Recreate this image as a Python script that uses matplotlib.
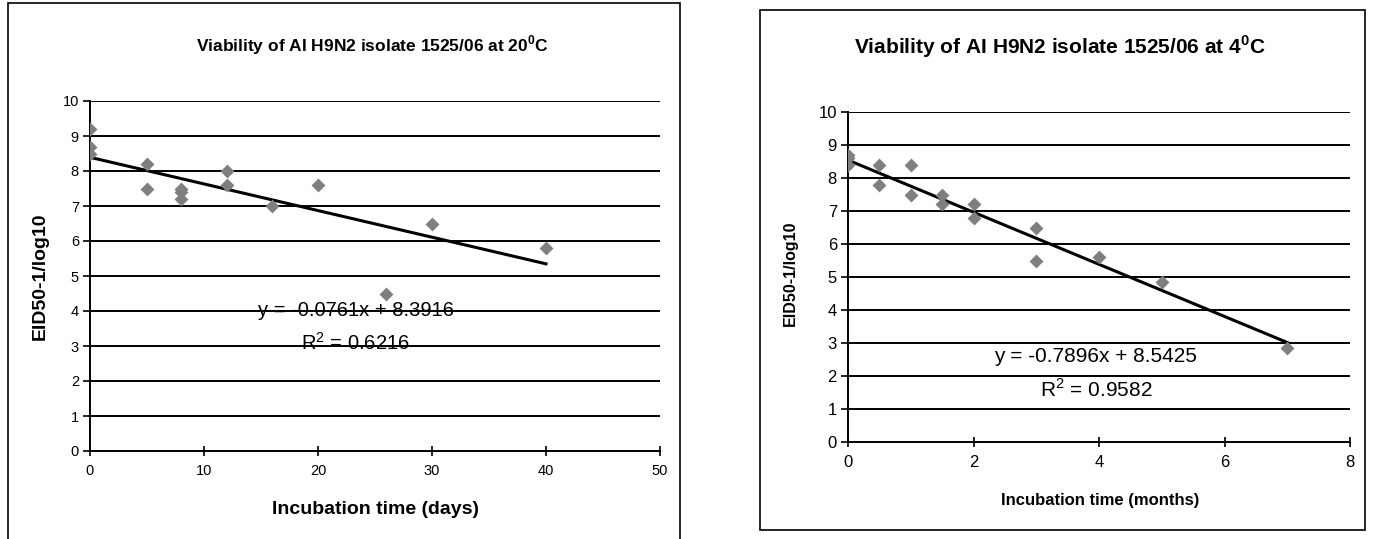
import numpy as np
import matplotlib
matplotlib.use("Agg")
import matplotlib.pyplot as plt
from matplotlib.patches import Rectangle

plt.rcParams['font.family'] = ['Liberation Sans', 'DejaVu Sans']
plt.rcParams['mathtext.fontset'] = 'custom'
plt.rcParams['mathtext.rm'] = 'Liberation Sans'
plt.rcParams['mathtext.bf'] = 'Liberation Sans:bold'

# --- data: 20 C, days ---
days = [0, 0, 0, 5, 5, 8, 8, 8, 12, 12, 16, 20, 26, 30, 40]
titre_20 = [9.2, 8.7, 8.5, 8.2, 7.5, 7.5, 7.4, 7.2, 8.0, 7.6, 7.0, 7.6, 4.5, 6.5, 5.8]
slope_20, icept_20, r2_20 = -0.0761, 8.3916, 0.6216

# --- data: 4 C, months ---
months = [0, 0, 0, 0.5, 0.5, 1, 1, 1.5, 1.5, 2, 2, 3, 3, 4, 5, 7]
titre_4 = [8.7, 8.6, 8.4, 8.4, 7.8, 8.4, 7.5, 7.5, 7.2, 7.2, 6.8, 6.5, 5.5, 5.6, 4.85, 2.85]
slope_4, icept_4, r2_4 = -0.7896, 8.5425, 0.9582

W, H = 1376, 539
fig = plt.figure(figsize=(W / 100, H / 100), dpi=100)


def px_axes(x0, x1, y_top, y_bot):
    return fig.add_axes([x0 / W, 1 - y_bot / H, (x1 - x0) / W, (y_bot - y_top) / H])


def frame(x0, y0, x1, y1):
    fig.patches.append(Rectangle((x0 / W, 1 - y1 / H), (x1 - x0) / W, (y1 - y0) / H,
                                 transform=fig.transFigure, fill=False,
                                 edgecolor='black', linewidth=1.2))


def draw_panel(ax, x, y, slope, icept, xmax, xstep, tick_fs):
    ax.set_xlim(0, xmax)
    ax.set_ylim(0, 10)
    ax.set_yticks(range(0, 11))
    ax.set_xticks(np.arange(0, xmax + 0.01, xstep))
    for v in range(1, 11):
        ax.axhline(v, color='black', linewidth=1.4, zorder=1)
    ax.scatter(x, y, marker='D', s=50, color='#7f7f7f', zorder=3, linewidths=0)
    xs = np.array([0, max(x)])
    ax.plot(xs, icept + slope * xs, color='black', linewidth=2.2, zorder=2)
    for s in ['top', 'right']:
        ax.spines[s].set_visible(False)
    for s in ['left', 'bottom']:
        ax.spines[s].set_linewidth(1.4)
    ax.tick_params(axis='y', direction='out', length=5, width=1.2, labelsize=tick_fs, pad=3)
    ax.tick_params(axis='x', direction='inout', length=7, width=1.2, labelsize=tick_fs, pad=6)


# left panel
frame(8, 3, 680, 545)
ax1 = px_axes(90, 660, 101, 451)
draw_panel(ax1, days, titre_20, slope_20, icept_20, 50, 10, 10.5)
fig.text(372 / W, 1 - 45 / H, r'Viability of AI H9N2 isolate 1525/06 at 20$^\mathbf{0}$C',
         ha='center', va='center', fontsize=12.5, fontweight='bold')
fig.text(40 / W, 1 - 276 / H, 'EID50-1/log10', rotation=90, ha='center', va='center',
         fontsize=14, fontweight='bold')
fig.text(375 / W, 1 - 509 / H, 'Incubation time (days)', ha='center', va='center',
         fontsize=14, fontweight='bold')
ax1.text(23.3, 4.0, 'y = %.4fx + %.4f' % (slope_20, icept_20), ha='center', va='center',
         fontsize=14.5)
ax1.text(23.3, 3.1, r'R$^2$ = %.4f' % r2_20, ha='center', va='center', fontsize=14.5)

# right panel
frame(760, 10, 1365, 530)
ax2 = px_axes(848, 1350, 112, 442)
draw_panel(ax2, months, titre_4, slope_4, icept_4, 8, 2, 12)
fig.text(1060 / W, 1 - 47 / H, r'Viability of AI H9N2 isolate 1525/06 at 4$^\mathbf{0}$C',
         ha='center', va='center', fontsize=15, fontweight='bold')
fig.text(790 / W, 1 - 273 / H, 'EID50-1/log10', rotation=90, ha='center', va='center',
         fontsize=11.5, fontweight='bold')
fig.text(1100 / W, 1 - 500 / H, 'Incubation time (months)', ha='center', va='center',
         fontsize=12, fontweight='bold')
ax2.text(3.95, 2.58, 'y = %.4fx + %.4f' % (slope_4, icept_4), ha='center', va='center',
         fontsize=15)
ax2.text(3.95, 1.58, r'R$^2$ = %.4f' % r2_4, ha='center', va='center', fontsize=15)

fig.savefig('out.png', dpi=100)
